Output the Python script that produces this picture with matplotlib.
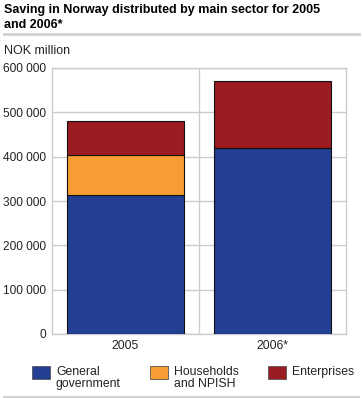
import matplotlib.pyplot as plt
from matplotlib.patches import Rectangle
from matplotlib.lines import Line2D
from matplotlib.ticker import FuncFormatter

plt.rcParams['font.family'] = ['Liberation Sans', 'DejaVu Sans']

years = ['2005', '2006*']
general_government = [313000, 420000]
households = [91000, 0]
enterprises = [76000, 151000]

labels = ['General\ngovernment', 'Households\nand NPISH', 'Enterprises']
colors = ['#223f94', '#f89c34', '#9b1c21']

W, H = 363, 398
fig = plt.figure(figsize=(W / 100, H / 100), dpi=100)

# title and rules
fig.text(4 / W, 1 - 4 / H, 'Saving in Norway distributed by main sector for 2005\nand 2006*',
         fontsize=9.0, fontweight='bold', va='top', ha='left', color='#000000', linespacing=1.3)
fig.add_artist(Line2D([4 / W, 359 / W], [1 - 34 / H, 1 - 34 / H], color='#d0d0d0', lw=2))
fig.add_artist(Line2D([4 / W, 359 / W], [1 - 396.5 / H, 1 - 396.5 / H], color='#d0d0d0', lw=1.5))
fig.text(4 / W, 1 - 51 / H, 'NOK million', fontsize=9.0, va='center', ha='left', color='#222222')

ax = fig.add_axes([52 / W, 1 - 334 / H, 294 / W, 266 / H])

x = range(len(years))
bottom2 = [g + h for g, h in zip(general_government, households)]
ax.bar(x, general_government, width=0.8, color=colors[0], edgecolor='#111111', lw=0.8, zorder=3)
ax.bar(x, households, width=0.8, bottom=general_government, color=colors[1], edgecolor='#111111', lw=0.8, zorder=3)
ax.bar(x, enterprises, width=0.8, bottom=bottom2, color=colors[2], edgecolor='#111111', lw=0.8, zorder=3)

ax.set_xlim(-0.5, 1.5)
ax.set_ylim(0, 600000)
ax.set_yticks(range(0, 600001, 100000))
ax.yaxis.set_major_formatter(FuncFormatter(lambda v, p: f'{int(v):,}'.replace(',', ' ')))
ax.set_xticks(list(x))
ax.set_xticklabels(years)
ax.set_xticks([0.5], minor=True)
ax.grid(axis='y', color='#cccccc', lw=1, zorder=0)
ax.grid(axis='x', which='minor', color='#cccccc', lw=1, zorder=0)
ax.tick_params(axis='y', length=0, labelsize=8.6, labelcolor='#222222', pad=4)
ax.tick_params(axis='x', length=0, labelsize=8.8, labelcolor='#222222', pad=4)
ax.tick_params(axis='x', which='minor', length=0)
for s in ax.spines.values():
    s.set_color('#cccccc')
    s.set_linewidth(1)

# legend
leg_x = [32, 150, 268]
for lx, lab, c in zip(leg_x, labels, colors):
    fig.add_artist(Rectangle((lx / W, 1 - 379 / H), 18 / W, 13 / H, facecolor=c,
                             edgecolor='#555555', lw=0.6, transform=fig.transFigure))
    fig.text((lx + 24) / W, 1 - 366 / H, lab, fontsize=8.8, va='top', ha='left',
             color='#222222', linespacing=1.05)

fig.savefig('out.png', dpi=100)
